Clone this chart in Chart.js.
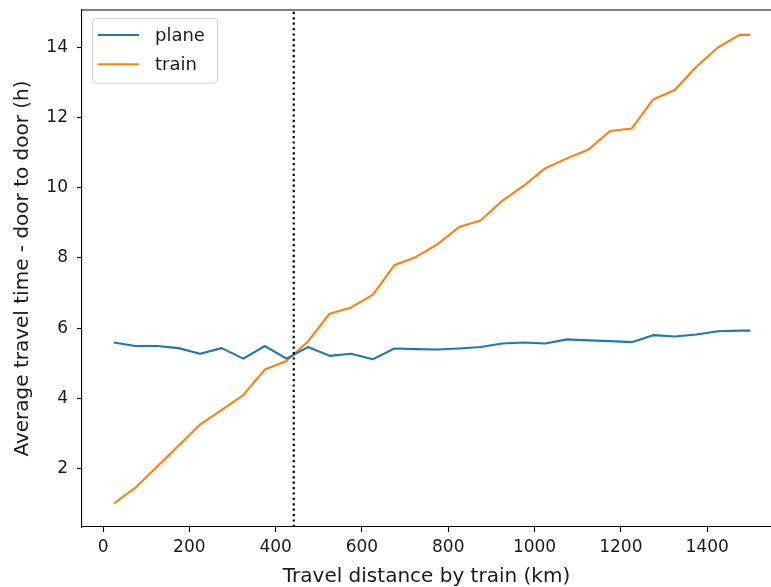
<!DOCTYPE html>
<html>
<head>
<meta charset="utf-8">
<script src="https://cdn.jsdelivr.net/npm/chart.js@4"></script>
<style>
  html, body { margin: 0; padding: 0; overflow: hidden; background: #fff; }
  #wrap { position: absolute; left: 0; top: 0; }
</style>
</head>
<body>
<div id="wrap"><canvas id="travelChart" width="771" height="587"></canvas></div>
<script>
// distance bins (km) and average door-to-door time (h)
const distances = [25, 75, 125, 175, 225, 275, 325, 375, 425, 475, 525, 575, 625, 675, 725,
  775, 825, 875, 925, 975, 1025, 1075, 1125, 1175, 1225, 1275, 1325, 1375, 1425, 1475, 1500]
const planeHours = [5.59, 5.49, 5.49, 5.43, 5.27, 5.43, 5.13, 5.49, 5.13, 5.46, 5.21, 5.27, 5.11, 5.42, 5.40,
  5.39, 5.42, 5.46, 5.56, 5.59, 5.56, 5.68, 5.65, 5.63, 5.60, 5.80, 5.76, 5.82, 5.91, 5.93, 5.93]
const trainHours = [1.00, 1.45, 2.05, 2.65, 3.25, 3.67, 4.09, 4.82, 5.06, 5.62, 6.41, 6.59, 6.95, 7.79, 8.03,
  8.39, 8.88, 9.07, 9.63, 10.06, 10.56, 10.84, 11.09, 11.62, 11.69, 12.52, 12.79, 13.45, 14.00, 14.36, 14.36]
const seriesNames = ['plane', 'train']
const seriesColors = ['#1f77b4', '#ff7f0e']

// distance where the train stops being faster
const breakEvenKm = 442

const xTicks = [0, 200, 400, 600, 800, 1000, 1200, 1400]
const yTicks = [2, 4, 6, 8, 10, 12, 14]

const FONT = 'DejaVu Sans'
const INK = '#1a1a1a'

const toPoints = ys => ys.map((y, i) => ({ x: distances[i], y }))

// top spine and the dotted break-even line (the right spine sits past the canvas edge)
const framePlugin = {
  id: 'frame',
  afterDatasetsDraw (chart) {
    const { ctx, chartArea: a, scales } = chart
    const x = scales.x.getPixelForValue(breakEvenKm)
    ctx.save()
    ctx.strokeStyle = '#000'
    ctx.lineWidth = 2.2
    ctx.setLineDash([2.2, 3.2])
    ctx.beginPath()
    ctx.moveTo(x, a.bottom)
    ctx.lineTo(x, a.top)
    ctx.stroke()
    ctx.restore()

    ctx.save()
    ctx.strokeStyle = '#000'
    ctx.lineWidth = 1.1
    ctx.beginPath()
    ctx.moveTo(a.left, a.top)
    ctx.lineTo(chart.width, a.top)
    ctx.stroke()
    ctx.restore()
  }
}

// matplotlib-like legend inside the upper left corner
const insideLegend = {
  id: 'insideLegend',
  afterDraw (chart) {
    const { ctx, chartArea: a } = chart
    const sets = chart.data.datasets
    const bx = a.left + 10
    const by = a.top + 8
    const bw = 125
    const rowH = 29.3
    const bh = 6 + rowH * sets.length
    ctx.save()
    ctx.fillStyle = 'rgba(255,255,255,0.8)'
    ctx.strokeStyle = '#d0d0d0'
    ctx.lineWidth = 1
    ctx.beginPath()
    ctx.roundRect(bx + 0.5, by + 0.5, bw, bh, 4)
    ctx.fill()
    ctx.stroke()
    ctx.font = '18px "' + FONT + '"'
    ctx.textBaseline = 'middle'
    sets.forEach((ds, i) => {
      const cy = by + 17 + i * rowH
      ctx.strokeStyle = ds.borderColor
      ctx.lineWidth = 2.1
      ctx.beginPath()
      ctx.moveTo(bx + 6, cy)
      ctx.lineTo(bx + 47, cy)
      ctx.stroke()
      ctx.fillStyle = INK
      ctx.fillText(ds.label, bx + 63, cy + 1)
    })
    ctx.restore()
  }
}

const axisBase = {
  type: 'linear',
  grid: {
    display: true,
    drawOnChartArea: false,
    drawTicks: true,
    tickLength: 5,
    tickWidth: 1.1,
    tickColor: '#000'
  },
  border: { display: true, color: '#000', width: 1.1 }
}

new Chart(document.getElementById('travelChart').getContext('2d'), {
  type: 'line',
  data: {
    datasets: [
      { label: seriesNames[0], data: toPoints(planeHours), borderColor: seriesColors[0] },
      { label: seriesNames[1], data: toPoints(trainHours), borderColor: seriesColors[1] }
    ]
  },
  options: {
    responsive: false,
    animation: false,
    events: [],
    layout: { padding: { left: 0, top: 10, right: 0, bottom: 0 } },
    elements: {
      point: { radius: 0 },
      line: { borderWidth: 2.1, tension: 0, fill: false, borderJoinStyle: 'round', borderCapStyle: 'butt' }
    },
    scales: {
      x: {
        ...axisBase,
        position: 'bottom',
        min: -48.75,
        max: 1548,
        afterBuildTicks: s => { s.ticks = xTicks.map(v => ({ value: v })) },
        afterFit: s => { s.height = 60; s.paddingLeft = 0; s.paddingRight = 0 },
        ticks: {
          color: INK,
          padding: 5,
          maxRotation: 0,
          callback: v => String(v),
          font: { family: FONT, size: 17 }
        },
        title: {
          display: true,
          text: 'Travel distance by train (km)',
          color: INK,
          padding: { top: 0, bottom: 0 },
          font: { family: FONT, size: 20, lineHeight: 1 }
        }
      },
      y: {
        ...axisBase,
        position: 'left',
        min: 0.33,
        max: 15.07,
        afterBuildTicks: s => { s.ticks = yTicks.map(v => ({ value: v })) },
        afterFit: s => { s.width = 82; s.paddingTop = 0; s.paddingBottom = 0 },
        ticks: { color: INK, padding: 9, callback: v => String(v), font: { family: FONT, size: 17 } },
        title: {
          display: true,
          text: 'Average travel time - door to door (h)',
          color: INK,
          padding: { top: 13, bottom: 0 },
          font: { family: FONT, size: 20, lineHeight: 1 }
        }
      }
    },
    plugins: {
      legend: { display: false },
      tooltip: { enabled: false }
    }
  },
  plugins: [framePlugin, insideLegend]
})
</script>
</body>
</html>
